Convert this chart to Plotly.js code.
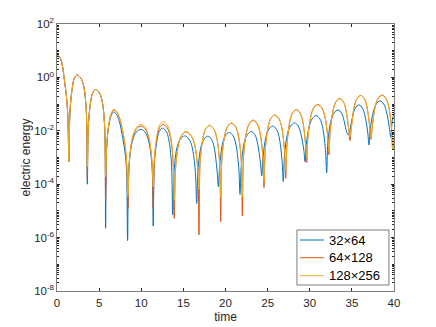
<!DOCTYPE html>
<html>
<head>
<meta charset="utf-8">
<script src="https://cdn.plot.ly/plotly-3.0.1.min.js"></script>
<style>
  html, body { margin: 0; padding: 0; background: #fff; }
  #plot { width: 436px; height: 327px; }
</style>
</head>
<body>
<div id="plot"></div>
<script>
// time samples for the 32x64 run
const t32 = [
  0, 0.3, 0.6, 0.9, 1.1, 1.28, 1.42,
  1.55, 1.86, 2.06, 2.41, 2.83, 3.16, 3.47, 3.60,
  3.73, 4.03, 4.25, 4.6, 5.01, 5.33, 5.64, 5.77,
  5.9, 6.15, 6.45, 6.72, 7.05, 7.4, 7.7, 8.05, 8.25, 8.38,
  8.56, 8.98, 9.4, 10.0, 10.45, 10.85, 11.26, 11.42,
  11.57, 11.9, 12.15, 12.54, 12.96, 13.25, 13.58, 13.73,
  13.9, 14.27, 14.65, 15.15, 15.65, 16.02, 16.41, 16.58,
  16.73, 17.09, 17.44, 17.9, 18.34, 18.64, 19.0, 19.15,
  19.3, 19.66, 20.0, 20.45, 20.89, 21.2, 21.57, 21.72,
  21.87, 22.23, 22.58, 23.05, 23.49, 23.78, 24.15, 24.3,
  24.45, 24.81, 25.15, 25.6, 26.04, 26.35, 26.71, 26.86,
  27.01, 27.37, 27.73, 28.2, 28.63, 28.93, 29.29, 29.44,
  29.59, 29.95, 30.29, 30.75, 31.19, 31.5, 31.86, 32.01,
  32.16, 32.52, 32.88, 33.35, 33.78, 34.07, 34.3, 34.45, 34.58,
  34.75, 35.1, 35.41, 35.85, 36.26, 36.55, 36.88, 37.03,
  37.18, 37.55, 37.89, 38.35, 38.79, 39.1, 39.46, 39.61,
  39.8, 40
];
// log10 of electric energy, 32x64
const log32 = [
  0.85, 0.78, 0.5, -0.15, -0.65, -1.4, -3.16,
  -1.21, -0.31, -0.03, 0.09, -0.03, -0.31, -1.21, -4.0,
  -1.75, -0.85, -0.57, -0.45, -0.57, -0.85, -1.75, -5.65,
  -2.6, -1.8, -1.42, -1.3, -1.38, -1.65, -2.1, -2.75, -3.45, -6.11,
  -3.25, -2.35, -2.05, -1.95, -2.05, -2.35, -3.25, -5.57,
  -3.2, -2.3, -2.02, -1.9, -2.02, -2.3, -3.2, -5.15,
  -3.49, -2.59, -2.31, -2.19, -2.31, -2.59, -3.49, -4.72,
  -3.5, -2.6, -2.32, -2.2, -2.32, -2.6, -3.5, -4.09,
  -3.36, -2.46, -2.18, -2.06, -2.18, -2.46, -3.36, -4.38,
  -3.33, -2.43, -2.15, -2.03, -2.15, -2.43, -3.2, -3.69,
  -3.0, -2.22, -1.94, -1.82, -1.94, -2.22, -3.1, -3.9,
  -2.9, -2.1, -1.82, -1.7, -1.82, -2.1, -2.7, -3.16,
  -2.5, -1.83, -1.55, -1.43, -1.55, -1.83, -2.7, -3.57,
  -2.4, -1.62, -1.34, -1.22, -1.34, -1.62, -1.95, -2.1, -2.16,
  -2.0, -1.45, -1.15, -1.03, -1.15, -1.43, -2.05, -2.53,
  -1.95, -1.28, -1.0, -0.88, -1.0, -1.28, -1.9, -2.24,
  -1.6, -1.34
];

// time samples shared by the 64x128 and 128x256 runs
const tFine = [
  0, 0.3, 0.6, 0.9, 1.1, 1.28, 1.42,
  1.55, 1.86, 2.06, 2.41, 2.83, 3.16, 3.47, 3.60,
  3.73, 4.03, 4.25, 4.6, 5.01, 5.33, 5.64, 5.77,
  5.9, 6.15, 6.45, 6.72, 7.05, 7.4, 7.75, 8.1, 8.28, 8.42,
  8.6, 9.02, 9.45, 10.0, 10.45, 10.85, 11.26, 11.42,
  11.57, 11.92, 12.19, 12.6, 13.06, 13.4, 13.76, 13.92,
  14.09, 14.48, 14.82, 15.3, 15.84, 16.27, 16.68, 16.85,
  17.0, 17.37, 17.66, 18.1, 18.58, 18.92, 19.28, 19.43,
  19.58, 19.95, 20.26, 20.7, 21.16, 21.48, 21.85, 22.0,
  22.15, 22.52, 22.85, 23.3, 23.74, 24.05, 24.42, 24.57,
  24.72, 25.09, 25.4, 25.85, 26.3, 26.63, 27.0, 27.15,
  27.3, 27.66, 27.96, 28.4, 28.83, 29.14, 29.49, 29.64,
  29.79, 30.16, 30.49, 30.95, 31.42, 31.76, 32.13, 32.28,
  32.43, 32.8, 33.11, 33.55, 33.99, 34.28, 34.63, 34.78,
  34.93, 35.3, 35.61, 36.05, 36.48, 36.77, 37.12, 37.27,
  37.42, 37.79, 38.13, 38.6, 39.04, 39.35, 39.7, 39.85,
  40
];
const log64 = [
  0.85, 0.78, 0.5, -0.15, -0.65, -1.4, -3.16,
  -1.21, -0.31, -0.03, 0.09, -0.03, -0.31, -1.21, -3.78,
  -1.75, -0.85, -0.57, -0.45, -0.57, -0.85, -1.75, -4.66,
  -2.6, -1.75, -1.35, -1.22, -1.28, -1.5, -1.95, -2.6, -3.3, -4.9,
  -3.12, -2.22, -1.92, -1.82, -1.92, -2.22, -3.12, -4.9,
  -3.06, -2.16, -1.88, -1.76, -1.88, -2.16, -3.06, -5.28,
  -3.34, -2.44, -2.16, -2.04, -2.16, -2.44, -3.34, -5.9,
  -3.1, -2.2, -1.92, -1.8, -1.92, -2.2, -3.1, -5.4,
  -3.02, -2.12, -1.84, -1.72, -1.84, -2.12, -3.02, -5.19,
  -2.9, -2.0, -1.72, -1.6, -1.72, -2.0, -2.9, -4.13,
  -2.71, -1.81, -1.53, -1.41, -1.53, -1.81, -2.71, -3.78,
  -2.51, -1.61, -1.33, -1.21, -1.33, -1.61, -2.45, -3.19,
  -2.2, -1.41, -1.13, -1.01, -1.13, -1.41, -2.2, -2.9,
  -2.0, -1.19, -0.91, -0.79, -0.91, -1.19, -1.95, -2.37,
  -1.9, -1.07, -0.79, -0.67, -0.79, -1.07, -1.85, -2.32,
  -1.85, -1.06, -0.78, -0.66, -0.78, -1.06, -1.9, -2.72,
  -2.3
];
const log128 = [
  0.85, 0.78, 0.5, -0.15, -0.65, -1.4, -3.16,
  -1.21, -0.31, -0.03, 0.09, -0.03, -0.31, -1.21, -3.34,
  -1.75, -0.85, -0.57, -0.45, -0.57, -0.85, -1.75, -3.72,
  -2.6, -1.75, -1.35, -1.2, -1.26, -1.48, -1.93, -2.58, -3.25, -4.47,
  -3.06, -2.16, -1.86, -1.76, -1.86, -2.16, -3.06, -4.1,
  -2.96, -2.06, -1.78, -1.66, -1.78, -2.06, -2.96, -4.6,
  -3.33, -2.43, -2.15, -2.03, -2.15, -2.43, -3.33, -4.2,
  -3.1, -2.2, -1.92, -1.8, -1.92, -2.2, -3.1, -4.5,
  -3.0, -2.1, -1.82, -1.7, -1.82, -2.1, -3.0, -4.47,
  -2.92, -2.02, -1.74, -1.62, -1.74, -2.02, -2.92, -3.9,
  -2.71, -1.81, -1.53, -1.41, -1.53, -1.81, -2.71, -3.47,
  -2.5, -1.6, -1.32, -1.2, -1.32, -1.6, -2.45, -3.0,
  -2.22, -1.43, -1.15, -1.03, -1.15, -1.43, -2.2, -2.78,
  -2.0, -1.2, -0.92, -0.8, -0.92, -1.2, -1.95, -2.22,
  -1.9, -1.08, -0.8, -0.68, -0.8, -1.08, -1.85, -2.3,
  -1.85, -1.07, -0.79, -0.67, -0.79, -1.07, -1.9, -2.7,
  -2.3
];

const seriesNames = ['32\u00d764', '64\u00d7128', '128\u00d7256'];
const colors = ['#0072BD', '#D95319', '#EDB120'];

const yTickVals = [1e-8, 1e-6, 1e-4, 1e-2, 1, 1e2];
const yTickText = ['10<sup>-8</sup>', '10<sup>-6</sup>', '10<sup>-4</sup>',
                   '10<sup>-2</sup>', '10<sup>0</sup>', '10<sup>2</sup>'];
const xTickVals = [0, 5, 10, 15, 20, 25, 30, 35, 40];

const toEnergy = arr => arr.map(v => Math.pow(10, v));

// minor ticks on the log axis (2..9 in each decade, plus the odd decades)
const minorVals = [];
for (let k = -8; k < 2; k++) {
    for (let m = 1; m <= 9; m++) {
        if (m === 1 && k % 2 === 0) continue;
        minorVals.push(m * Math.pow(10, k));
    }
}

const traces = [
    { x: t32, y: toEnergy(log32) },
    { x: tFine, y: toEnergy(log64) },
    { x: tFine, y: toEnergy(log128) }
].map((d, i) => ({
    x: d.x,
    y: d.y,
    type: 'scatter',
    mode: 'lines',
    name: seriesNames[i],
    showlegend: false,
    line: { color: colors[i], width: 1, shape: 'spline', smoothing: 1 }
}));

const axisColor = '#262626';
const family = 'Liberation Sans, Arial, sans-serif';
const tickFont = { family: family, size: 11.5, color: axisColor };
const titleFont = { family: family, size: 12, color: axisColor };

// MATLAB-like legend box in the lower right (paper coords of the plot area)
const legendBox = { x0: 0.712, x1: 0.985, y0: 0.0225, y1: 0.2285 };
const legendRows = [0.191, 0.1247, 0.0573];
const shapes = [{
    type: 'rect', xref: 'paper', yref: 'paper',
    x0: legendBox.x0, x1: legendBox.x1, y0: legendBox.y0, y1: legendBox.y1,
    fillcolor: '#fff', line: { color: axisColor, width: 0.6 }, layer: 'above'
}];
const annotations = [];
seriesNames.forEach((name, i) => {
    shapes.push({
        type: 'line', xref: 'paper', yref: 'paper',
        x0: 0.721, x1: 0.792, y0: legendRows[i], y1: legendRows[i],
        line: { color: colors[i], width: 1 }, layer: 'above'
    });
    annotations.push({
        xref: 'paper', yref: 'paper', x: 0.8, y: legendRows[i],
        xanchor: 'left', yanchor: 'middle', showarrow: false,
        text: name, font: { family: family, size: 13, color: '#000' }
    });
});

const layout = {
    width: 436,
    height: 327,
    margin: { l: 57, r: 42, t: 24, b: 36 },
    paper_bgcolor: '#fff',
    plot_bgcolor: '#fff',
    font: tickFont,
    showlegend: false,
    shapes: shapes,
    annotations: annotations,
    xaxis: {
        range: [0, 40],
        tickvals: xTickVals,
        ticks: 'inside',
        ticklen: 3,
        tickcolor: axisColor,
        ticklabelstandoff: 2,
        showline: true,
        linecolor: axisColor,
        linewidth: 0.6,
        mirror: 'ticks',
        showgrid: false,
        zeroline: false,
        tickfont: tickFont,
        title: { text: 'time', font: titleFont, standoff: 3 }
    },
    yaxis: {
        type: 'log',
        range: [-8, 2],
        tickvals: yTickVals,
        ticktext: yTickText,
        ticks: 'inside',
        ticklen: 3,
        tickcolor: axisColor,
        showline: true,
        linecolor: axisColor,
        linewidth: 0.6,
        mirror: 'ticks',
        showgrid: false,
        zeroline: false,
        tickfont: tickFont,
        minor: { tickvals: minorVals, ticks: 'inside', ticklen: 2, tickcolor: axisColor, showgrid: false },
        title: { text: 'electric energy', font: titleFont, standoff: 0 }
    }
};

Plotly.newPlot('plot', traces, layout, { staticPlot: true });
</script>
</body>
</html>
